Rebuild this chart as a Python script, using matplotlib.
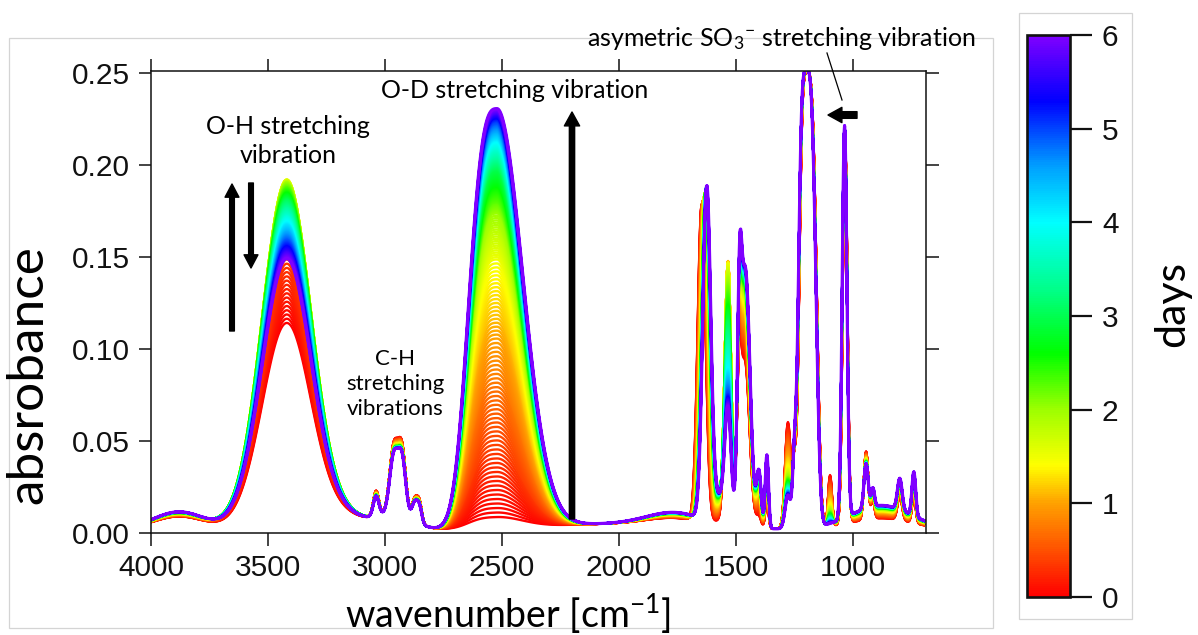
import numpy as np
import matplotlib
matplotlib.use("Agg")
import matplotlib.pyplot as plt
from matplotlib.collections import LineCollection
from matplotlib.colors import LinearSegmentedColormap, Normalize
from matplotlib.cm import ScalarMappable
from matplotlib.patches import Rectangle
from matplotlib.ticker import FormatStrFormatter, FixedLocator
from matplotlib.lines import Line2D

W, H = 1198, 635

# ---------------------------------------------------------------------------
# Band kinetics at measurement-day nodes (absorbance at the band maximum)
# ---------------------------------------------------------------------------
node_days = [0, 0.5, 1, 1.5, 2, 3, 4, 5, 6]
od_height = [0.006, 0.055, 0.103, 0.146, 0.171, 0.195, 0.210, 0.221, 0.228]   # O-D stretch ~2522
oh_height = [0.112, 0.158, 0.182, 0.190, 0.188, 0.179, 0.167, 0.156, 0.147]   # O-H stretch ~3420
nh_height = [0.125, 0.137, 0.142, 0.140, 0.130, 0.108, 0.082, 0.068, 0.061]   # band ~1534

# O-D / O-H / 1534 band shapes: centre, half-widths (high / low wavenumber side), exponents
od_shape = (2522, 112, 110, 3.0, 2.0)
oh_shape = (3420, 105, 105, 2.0, 2.0)
nh_shape = (1534, 14, 13, 2.0, 2.0)

# Remaining bands: start (day 0) and end (day 6) centre / height
band_center_0 = [3880, 3150, 3038, 2962, 2927, 2872, 2852, 2950, 2000, 1760, 1647, 1575,
                 1487, 1462, 1402, 1368, 1278, 1250, 1195, 1098, 1034, 944, 915, 880, 800, 740]
band_center_6 = [3880, 3150, 3038, 2962, 2927, 2872, 2852, 2950, 2000, 1760, 1625, 1575,
                 1485, 1460, 1402, 1368, 1278, 1250, 1198, 1098, 1036, 944, 915, 880, 800, 740]
band_width_hi = [110, 100, 12, 18, 16, 12, 10, 70, 300, 120, 17, 25,
                 9, 20, 10, 7, 12, 8, 33, 8, 10, 9, 7, 130, 10, 8]
band_width_lo = [110, 100, 12, 18, 16, 12, 10, 70, 300, 120, 17, 25,
                 9, 20, 10, 7, 12, 8, 37, 8, 10, 9, 7, 130, 10, 8]
band_power_hi = [2, 2, 2, 2, 2, 2, 2, 2, 2, 2, 2, 2,
                 2, 2, 2, 2, 2, 2, 4.0, 2, 2, 2, 2, 2, 2, 2]
band_power_lo = [2, 2, 2, 2, 2, 2, 2, 2, 2, 2, 2, 2,
                 2, 2, 2, 2, 2, 2, 3.3, 2, 2, 2, 2, 2, 2, 2]
band_height_0 = [0.007, 0.006, 0.014, 0.036, 0.034, 0.012, 0.010, 0.008, 0.003, 0.004, 0.172, 0.002,
                 0.060, 0.090, 0.006, 0.015, 0.058, 0.035, 0.248, 0.028, 0.210, 0.037, 0.010, 0.006, 0.013, 0.014]
band_height_6 = [0.0095, 0.006, 0.011, 0.031, 0.029, 0.010, 0.008, 0.008, 0.003, 0.007, 0.180, 0.014,
                 0.090, 0.140, 0.030, 0.040, 0.018, 0.040, 0.249, 0.000, 0.213, 0.024, 0.010, 0.013, 0.017, 0.024]
baseline = 0.002

# colour scale (days)
cmap_days = [0, 0.5, 1.0, 1.4, 2.0, 2.6, 3.3, 4.0, 4.6, 5.3, 6.0]
cmap_colors = ["#ff0000", "#ff5200", "#ffa200", "#ffff00", "#9cff00", "#00ff00",
               "#00ff8c", "#00ffff", "#00a0ff", "#0000ff", "#8000ff"]

x_ticks = [4000, 3500, 3000, 2500, 2000, 1500, 1000]
y_ticks = [0.00, 0.05, 0.10, 0.15, 0.20, 0.25]
cbar_ticks = [0, 1, 2, 3, 4, 5, 6]


def band(x, center, height, w_hi, w_lo, p_hi, p_lo):
    d = x - center
    w = np.where(d > 0, w_hi, w_lo)
    p = np.where(d > 0, p_hi, p_lo)
    return height * np.exp(-0.5 * np.abs(d / w) ** p)


def fx(px):
    return px / W


def fy(py):
    return 1 - py / H


plt.rcParams["font.family"] = ["Lato", "DejaVu Sans"]
plt.rcParams["mathtext.default"] = "regular"

wn = np.arange(4000.0, 690.0, -2.0)
days = np.linspace(0, 6, 241)
od = np.interp(days, node_days, od_height)
oh = np.interp(days, node_days, oh_height)
nh = np.interp(days, node_days, nh_height)
progress = (od - od_height[0]) / (od_height[-1] - od_height[0])

spectra = []
for k in range(len(days)):
    p = progress[k]
    s = np.full_like(wn, baseline)
    s += band(wn, od_shape[0], od[k], *od_shape[1:])
    s += band(wn, oh_shape[0], oh[k], *oh_shape[1:])
    s += band(wn, nh_shape[0], nh[k], *nh_shape[1:])
    for i in range(len(band_center_0)):
        c = band_center_0[i] + (band_center_6[i] - band_center_0[i]) * p
        h = band_height_0[i] + (band_height_6[i] - band_height_0[i]) * p
        s += band(wn, c, h, band_width_hi[i], band_width_lo[i], band_power_hi[i], band_power_lo[i])
    spectra.append(s)

cmap = LinearSegmentedColormap.from_list(
    "days", list(zip(np.array(cmap_days) / 6.0, cmap_colors)))
norm = Normalize(0, 6)

fig = plt.figure(figsize=(W / 100, H / 100), dpi=100)

# light frames
fig.add_artist(Rectangle((fx(9), fy(628)), fx(993) - fx(9), fy(38) - fy(628),
                         transform=fig.transFigure, fill=False, ec="#d4d4d4", lw=0.9, zorder=0))
fig.add_artist(Rectangle((fx(1019), fy(619)), fx(1132) - fx(1019), fy(13) - fy(619),
                         transform=fig.transFigure, fill=False, ec="#d4d4d4", lw=0.9, zorder=0))

ax = fig.add_axes([fx(151), fy(533), fx(926) - fx(151), fy(71) - fy(533)])
ax.set_facecolor("none")
segs = [np.column_stack([wn, s]) for s in spectra]
widths = np.full(len(days), 1.7)
widths[-1] = 2.3
lc = LineCollection(segs, colors=cmap(norm(days)), linewidths=widths)
ax.add_collection(lc)
ax.set_xlim(4000, 688)
ax.set_ylim(0, 0.2511)
ax.xaxis.set_major_locator(FixedLocator(x_ticks))
ax.yaxis.set_major_locator(FixedLocator(y_ticks))
ax.yaxis.set_major_formatter(FormatStrFormatter("%.2f"))
ax.tick_params(direction="out", length=9, width=1.1, labelsize=21.5, pad=6,
               top=True, right=True, labelfontfamily="Liberation Sans", colors="#111111")
for sp in ax.spines.values():
    sp.set_linewidth(1.1)
    sp.set_color("#111111")

# axis titles
fig.text(fx(28), fy(375), "absrobance", rotation=90, ha="center", va="center", fontsize=37)
fig.text(fx(508), fy(614), "wavenumber [cm$^{-1}$]", ha="center", va="center", fontsize=27)

# band annotations
fig.text(fx(288), fy(141), "O-H stretching\nvibration", ha="center", va="center",
         fontsize=18, linespacing=1.28)
fig.text(fx(515), fy(90), "O-D stretching vibration", ha="center", va="center", fontsize=18)
fig.text(fx(395), fy(384), "C-H\nstretching\nvibrations", ha="center", va="center",
         fontsize=16, linespacing=1.3)
fig.text(fx(781), fy(38), "asymetric SO$_3$$^{-}$ stretching vibration", ha="center",
         va="center", fontsize=18)

def arrow(x0, y0, x1, y1, w, hw, hl):
    ax.annotate("", xy=(fx(x1), fy(y1)), xytext=(fx(x0), fy(y0)),
                xycoords="figure fraction", textcoords="figure fraction",
                arrowprops=dict(width=w, headwidth=hw, headlength=hl, color="black",
                                shrink=0.0), annotation_clip=False)

arrow(232, 331, 232, 184, 3.4, 10, 9.5)
arrow(251, 183, 251, 268, 3.4, 10, 9.5)
arrow(572, 519, 572, 112, 3.8, 11, 10)
arrow(857, 115, 828, 115, 4.8, 11, 10)
fig.add_artist(Line2D([fx(827), fx(842)], [fy(53), fy(100)], transform=fig.transFigure,
                      color="black", lw=0.9))

# colour bar
cax = fig.add_axes([fx(1027), fy(597), fx(1070) - fx(1027), fy(35) - fy(597)])
cb = fig.colorbar(ScalarMappable(norm=norm, cmap=cmap), cax=cax, ticks=cbar_ticks)
cb.outline.set_linewidth(1.9)
cb.outline.set_color("#111111")
cax.tick_params(length=16, width=1.6, labelsize=21.5, pad=7,
                labelfontfamily="Liberation Sans", colors="#111111")
fig.text(fx(1172), fy(304), "days", rotation=90, ha="center", va="center", fontsize=31)

fig.savefig("out.png", dpi=100)
